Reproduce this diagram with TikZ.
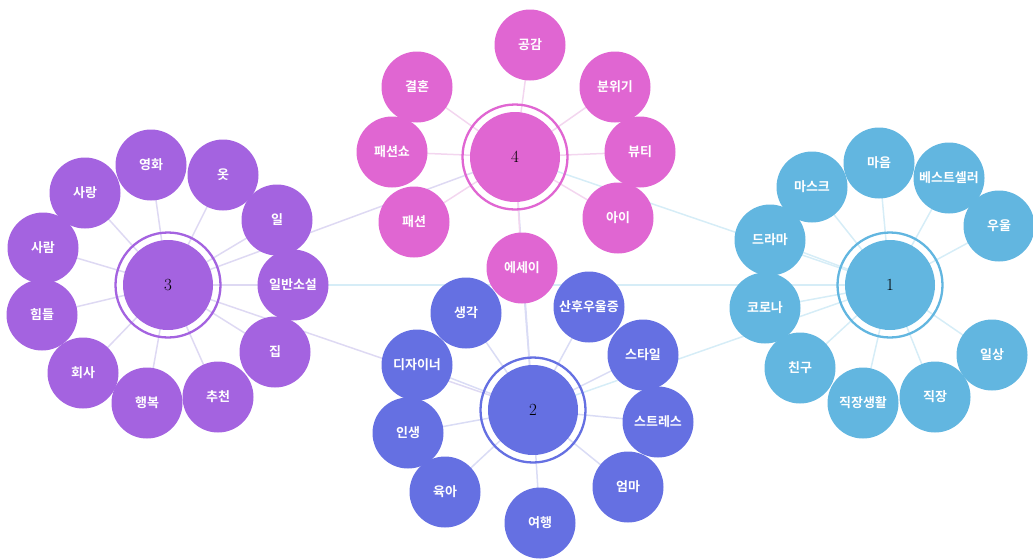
\documentclass[tikz,border=0pt]{standalone}
\usepackage{fontspec}
\newfontfamily\kr{Noto Sans CJK KR}[BoldFont={* Bold}]
\usetikzlibrary{positioning}
\definecolor{cpur}{HTML}{A463E0}
\definecolor{cpink}{HTML}{E066D2}
\definecolor{cblue}{HTML}{6570E2}
\definecolor{csky}{HTML}{62B6E0}
\definecolor{lpur}{HTML}{DED9F3}
\definecolor{lpink}{HTML}{F3D6EF}
\definecolor{lblue}{HTML}{DADCF5}
\definecolor{lsky}{HTML}{D6EDF7}
\tikzset{
  sat/.style={circle,fill=#1,minimum size=71pt,inner sep=0pt,text=white,font=\kr\bfseries\fontsize{13}{13}\selectfont},
  hub/.style={circle,fill=#1,minimum size=90pt,inner sep=0pt,font=\fontsize{17}{17}\selectfont},
  ring/.style={draw=#1,line width=2.3pt},
  lnk/.style={draw=#1,line width=1.5pt},
}
\begin{document}
\begin{tikzpicture}[x=1pt,y=-1pt]
\useasboundingbox (0,0) rectangle (1033,558);
% hub coordinates
\coordinate (p1) at (890,285);
\coordinate (p2) at (533,410);
\coordinate (p3) at (168,285);
\coordinate (p4) at (515,157);
% cross links
\draw[lnk=lsky] (p3) -- (p1);
\draw[lnk=lpur] (p3) -- (p4);
\draw[lnk=lpur] (p3) -- (p2);
\draw[lnk=lsky] (p4) -- (p1);
\draw[lnk=lsky] (p2) -- (p1);
\draw[lnk=lblue] (p4) -- (p2);
% cluster 3
\foreach \n/\x/\y in {a/151/165,b/223/175,c/277/220,d/293/285,e/275/352,f/218/397,g/147/403,h/83/373,i/42/315,j/43/248,k/85/193}
  {\coordinate (q3\n) at (\x,\y); \draw[lnk=lpur] (p3) -- (q3\n);}
% cluster 4
\foreach \n/\x/\y in {a/530/45,b/615/87,c/640/152,d/618/218,e/414/222,f/392/152,g/417/87,h/522/268}
  {\coordinate (q4\n) at (\x,\y); \draw[lnk=lpink] (p4) -- (q4\n);}
% cluster 2
\foreach \n/\x/\y in {a/466/313,b/589/307,c/643/355,d/658/422,e/628/487,f/540/523,g/445/492,h/408/433,i/417/365}
  {\coordinate (q2\n) at (\x,\y); \draw[lnk=lblue] (p2) -- (q2\n);}
\draw[lnk=lblue] (p2) -- (q4h);
% cluster 1
\foreach \n/\x/\y in {a/879/163,b/949/178,c/999/226,d/812/187,e/770/240,f/765/308,g/800/368,h/863/403,i/935/397,j/992/355}
  {\coordinate (q1\n) at (\x,\y); \draw[lnk=lsky] (p1) -- (q1\n);}
% hubs
\foreach \k/\c in {1/csky,2/cblue,3/cpur,4/cpink}{
  \draw[ring=\c] (p\k) circle (52.5pt);
  \node[hub=\c] (h\k) at (p\k) {\k};
}
% satellites cluster 3
\node[sat=cpur] (s3a) at (q3a) {영화};
\node[sat=cpur] (s3b) at (q3b) {옷};
\node[sat=cpur] (s3c) at (q3c) {일};
\node[sat=cpur] (s3d) at (q3d) {일반소설};
\node[sat=cpur] (s3e) at (q3e) {집};
\node[sat=cpur] (s3f) at (q3f) {추천};
\node[sat=cpur] (s3g) at (q3g) {행복};
\node[sat=cpur] (s3h) at (q3h) {회사};
\node[sat=cpur] (s3i) at (q3i) {힘들};
\node[sat=cpur] (s3j) at (q3j) {사람};
\node[sat=cpur] (s3k) at (q3k) {사랑};
% cluster 4
\node[sat=cpink] (s4a) at (q4a) {공감};
\node[sat=cpink] (s4b) at (q4b) {분위기};
\node[sat=cpink] (s4c) at (q4c) {뷰티};
\node[sat=cpink] (s4d) at (q4d) {아이};
\node[sat=cpink] (s4e) at (q4e) {패션};
\node[sat=cpink] (s4f) at (q4f) {패션쇼};
\node[sat=cpink] (s4g) at (q4g) {결혼};
% cluster 2
\node[sat=cblue] (s2a) at (q2a) {생각};
\node[sat=cblue] (s2b) at (q2b) {산후우울증};
\node[sat=cblue] (s2c) at (q2c) {스타일};
\node[sat=cblue] (s2d) at (q2d) {스트레스};
\node[sat=cblue] (s2e) at (q2e) {엄마};
\node[sat=cblue] (s2f) at (q2f) {여행};
\node[sat=cblue] (s2g) at (q2g) {육아};
\node[sat=cblue] (s2h) at (q2h) {인생};
\node[sat=cblue] (s2i) at (q2i) {디자이너};
\node[sat=cpink] (s4h) at (q4h) {에세이};
% cluster 1
\node[sat=csky] (s1a) at (q1a) {마음};
\node[sat=csky] (s1b) at (q1b) {베스트셀러};
\node[sat=csky] (s1c) at (q1c) {우울};
\node[sat=csky] (s1d) at (q1d) {마스크};
\node[sat=csky] (s1e) at (q1e) {드라마};
\node[sat=csky] (s1f) at (q1f) {코로나};
\node[sat=csky] (s1g) at (q1g) {친구};
\node[sat=csky] (s1h) at (q1h) {직장생활};
\node[sat=csky] (s1i) at (q1i) {직장};
\node[sat=csky] (s1j) at (q1j) {일상};
\end{tikzpicture}
\end{document}
